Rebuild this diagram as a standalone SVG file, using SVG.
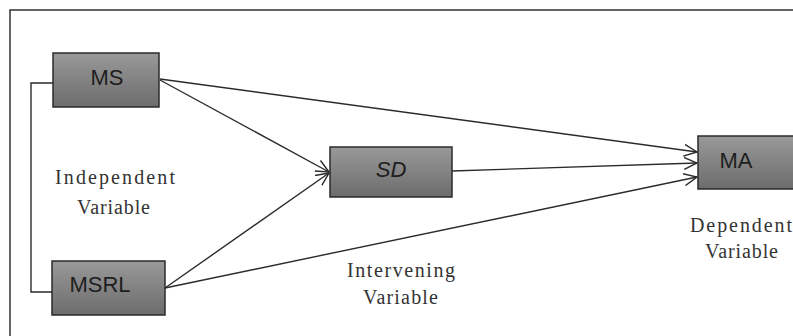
<svg xmlns="http://www.w3.org/2000/svg" width="793" height="336" viewBox="0 0 793 336">
  <style>
    .box { fill: url(#boxGrad); stroke: #2b2b2b; stroke-width: 1.5; }
    .lbl { font-family: "Liberation Sans", Arial, sans-serif; font-size: 22px; fill: #1e1e1e; }
    .cap { font-family: "Liberation Serif", "Times New Roman", serif; font-size: 20px; fill: #333; }
    .conn { fill: none; stroke: #2b2b2b; stroke-width: 1.4; }
  </style>
  <defs>
    <linearGradient id="boxGrad" x1="0" y1="0" x2="0" y2="1">
      <stop offset="0" stop-color="#999"/>
      <stop offset="1" stop-color="#6c6c6c"/>
    </linearGradient>
    <marker id="arr" viewBox="0 0 14 14" refX="13" refY="7" markerWidth="14" markerHeight="14" markerUnits="userSpaceOnUse" orient="auto">
      <path d="M0,1 L13,7 L0,13" fill="none" stroke="#2b2b2b" stroke-width="1.4"/>
    </marker>
  </defs>
  <rect width="793" height="336" fill="#fff"/>
  <path d="M10,336 V10 H793" fill="none" stroke="#333" stroke-width="1.5"/>

  <g id="connectors">
    <path class="conn" d="M53,83 H31 V292 H52"/>
    <line class="conn" x1="160" y1="79" x2="697" y2="152" marker-end="url(#arr)"/>
    <line class="conn" x1="160" y1="80" x2="329" y2="172" marker-end="url(#arr)"/>
    <line class="conn" x1="452" y1="171" x2="697" y2="163" marker-end="url(#arr)"/>
    <line class="conn" x1="165" y1="288" x2="329" y2="173" marker-end="url(#arr)"/>
    <line class="conn" x1="165" y1="288" x2="697" y2="177" marker-end="url(#arr)"/>
  </g>

  <g id="MS">
    <rect class="box" x="53" y="53" width="106" height="54"/>
    <text class="lbl" x="107" y="85" text-anchor="middle">MS</text>
  </g>
  <g id="MSRL">
    <rect class="box" x="52" y="261" width="113" height="54"/>
    <text class="lbl" x="100" y="292" text-anchor="middle">MSRL</text>
  </g>
  <g id="SD">
    <rect class="box" x="330" y="147" width="122" height="50"/>
    <text class="lbl" x="391" y="177" text-anchor="middle" font-style="italic">SD</text>
  </g>
  <g id="MA">
    <rect class="box" x="698" y="136" width="100" height="53"/>
    <text class="lbl" x="736" y="168" text-anchor="middle">MA</text>
  </g>

  <g id="captions">
    <text class="cap" x="55" y="184" textLength="120" lengthAdjust="spacing">Independent</text>
    <text class="cap" x="77" y="214" textLength="73" lengthAdjust="spacing">Variable</text>
    <text class="cap" x="347" y="277" textLength="108" lengthAdjust="spacing">Intervening</text>
    <text class="cap" x="363" y="304" textLength="75" lengthAdjust="spacing">Variable</text>
    <text class="cap" x="690" y="232" textLength="102" lengthAdjust="spacing">Dependent</text>
    <text class="cap" x="705" y="258" textLength="73" lengthAdjust="spacing">Variable</text>
  </g>
</svg>
